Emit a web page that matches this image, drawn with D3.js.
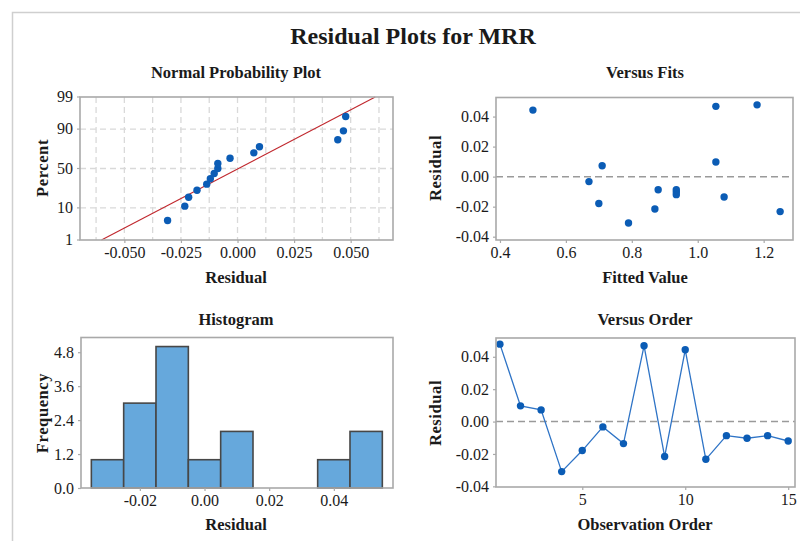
<!DOCTYPE html>
<html>
<head>
<meta charset="utf-8">
<script src="https://cdn.jsdelivr.net/npm/d3@7"></script>
<style>
  html, body { margin: 0; padding: 0; background: #fff; }
  svg { display: block; }
  text { font-family: "Liberation Serif", "Times New Roman", serif; fill: #1a1a1a; }
</style>
</head>
<body>
<svg id="chart" width="800" height="541"></svg>
<script>
// Residuals of the MRR model, listed in observation order
const observation = [1, 2, 3, 4, 5, 6, 7, 8, 9, 10, 11, 12, 13, 14, 15];
const residuals = [0.0478, 0.0097, 0.0072, -0.0309, -0.0179, -0.0033, -0.0136, 0.0468,
                   -0.0216, 0.0443, -0.0233, -0.0087, -0.0103, -0.0087, -0.0120];
const fittedValues = [1.18, 1.055, 0.71, 0.79, 0.70, 0.67, 1.08, 1.055,
                      0.87, 0.50, 1.25, 0.88, 0.935, 0.935, 0.935];

// Histogram bin edges
const binEdges = [-0.035, -0.025, -0.015, -0.005, 0.005, 0.015, 0.025, 0.035, 0.045, 0.055];

// Tick values
const nppPercentTicks = [1, 10, 50, 90, 99];
const nppResidualTicks = [-0.05, -0.025, 0, 0.025, 0.05];
const nppGridTicks = [-0.0625, -0.05, -0.0375, -0.025, -0.0125, 0, 0.0125, 0.025, 0.0375, 0.05, 0.0625];
const fitsXTicks = [0.4, 0.6, 0.8, 1.0, 1.2];
const residualYTicks = [-0.04, -0.02, 0, 0.02, 0.04];
const histXTicks = [-0.02, 0, 0.02, 0.04];
const histYTicks = [0, 1.2, 2.4, 3.6, 4.8];
const orderXTicks = [5, 10, 15];

const svg = d3.select("#chart");
const FRAME = "#a9a9a9";
const DOT = "#0b5cb5";
const TICK_FONT = "16px";
const fmt = f => v => d3.format(f)(v).replace("\u2212", "-");

// Inverse standard normal CDF (Acklam's rational approximation)
function probit(p) {
  const a = [-3.969683028665376e+01, 2.209460984245205e+02, -2.759285104469687e+02,
             1.383577518672690e+02, -3.066479806614716e+01, 2.506628277459239e+00];
  const b = [-5.447609879822406e+01, 1.615858368580409e+02, -1.556989798598866e+02,
             6.680131188771972e+01, -1.328068155288572e+01];
  const c = [-7.784894002430293e-03, -3.223964580411365e-01, -2.400758277161838e+00,
             -2.549671010241093e+00, 4.374664141464968e+00, 2.938163982698783e+00];
  const d = [7.784695709041462e-03, 3.224671290700398e-01, 2.445134137142996e+00,
             3.754408661907416e+00];
  const pl = 0.02425, ph = 1 - pl;
  let q, r;
  if (p < pl) {
    q = Math.sqrt(-2 * Math.log(p));
    return (((((c[0]*q+c[1])*q+c[2])*q+c[3])*q+c[4])*q+c[5]) / ((((d[0]*q+d[1])*q+d[2])*q+d[3])*q+1);
  }
  if (p <= ph) {
    q = p - 0.5; r = q * q;
    return (((((a[0]*r+a[1])*r+a[2])*r+a[3])*r+a[4])*r+a[5])*q / (((((b[0]*r+b[1])*r+b[2])*r+b[3])*r+b[4])*r+1);
  }
  q = Math.sqrt(-2 * Math.log(1 - p));
  return -(((((c[0]*q+c[1])*q+c[2])*q+c[3])*q+c[4])*q+c[5]) / ((((d[0]*q+d[1])*q+d[2])*q+d[3])*q+1);
}

// Outer border of the figure
svg.append("path")
  .attr("d", "M12.5,541 V12.5 H800")
  .attr("fill", "none").attr("stroke", "#cfcfcf").attr("stroke-width", 1.5);

svg.append("text")
  .attr("x", 413).attr("y", 44)
  .attr("text-anchor", "middle")
  .style("font-size", "24px").style("font-weight", "bold")
  .text("Residual Plots for MRR");

function panelTitle(x, y, t) {
  svg.append("text").attr("x", x).attr("y", y).attr("text-anchor", "middle")
    .style("font-size", "16.5px").style("font-weight", "bold").text(t);
}
function axisTitle(x, y, t, rotate) {
  const el = svg.append("text").attr("text-anchor", "middle")
    .style("font-size", "16.5px").style("font-weight", "bold").text(t);
  if (rotate) el.attr("transform", `translate(${x},${y}) rotate(-90)`).style("letter-spacing", "0.6px");
  else el.attr("x", x).attr("y", y);
}
function styleAxis(a) {
  a.select(".domain").remove();
  a.selectAll(".tick line").attr("stroke", FRAME).attr("stroke-width", 1.2);
  a.selectAll(".tick text").style("font-family", "'Liberation Serif', serif")
    .style("font-size", TICK_FONT).attr("fill", "#1a1a1a");
}
function drawAxes(g, xs, ys, box, xTicks, yTicks, xFmt, yFmt) {
  const ax = g.append("g").attr("transform", `translate(0,${box.b})`)
    .call(d3.axisBottom(xs).tickValues(xTicks).tickFormat(xFmt).tickSize(3).tickSizeOuter(0).tickPadding(4));
  styleAxis(ax);
  if (ys) {
    const ay = g.append("g").attr("transform", `translate(${box.l},0)`)
      .call(d3.axisLeft(ys).tickValues(yTicks).tickFormat(yFmt).tickSize(3).tickSizeOuter(0).tickPadding(4));
    styleAxis(ay);
  }
}
function frame(g, box) {
  g.append("rect").attr("x", box.l).attr("y", box.t)
    .attr("width", box.r - box.l).attr("height", box.b - box.t)
    .attr("fill", "none").attr("stroke", FRAME).attr("stroke-width", 1.6);
}

// ---------- Normal Probability Plot ----------
{
  const box = { l: 80, r: 393, t: 97, b: 240 };
  const g = svg.append("g");
  const x = d3.scaleLinear().domain([-0.0696, 0.0687]).range([box.l, box.r]);
  const y = d3.scaleLinear().domain([probit(0.01), probit(0.99)]).range([box.b, box.t]);
  const yp = p => y(probit(p / 100));

  g.selectAll("line.vgrid").data(nppGridTicks).join("line")
    .attr("class", "vgrid")
    .attr("x1", d => x(d)).attr("x2", d => x(d)).attr("y1", box.t).attr("y2", box.b)
    .attr("stroke", "#d9d9d9").attr("stroke-width", 1.3).attr("stroke-dasharray", "6,4");
  g.selectAll("line.hgrid").data([10, 50, 90]).join("line")
    .attr("class", "hgrid")
    .attr("x1", box.l).attr("x2", box.r).attr("y1", d => yp(d)).attr("y2", d => yp(d))
    .attr("stroke", "#d9d9d9").attr("stroke-width", 1.3).attr("stroke-dasharray", "6,4");

  // Fitted normal line from the residuals' mean and standard deviation
  const mu = d3.mean(residuals), sd = d3.deviation(residuals);
  const zLo = probit(0.01), zHi = probit(0.99);
  g.append("line")
    .attr("x1", x(mu + sd * zLo)).attr("y1", y(zLo))
    .attr("x2", x(mu + sd * zHi)).attr("y2", y(zHi))
    .attr("stroke", "#c0272d").attr("stroke-width", 1.1);

  const n = residuals.length;
  const sorted = residuals.slice().sort(d3.ascending);
  g.selectAll("circle").data(sorted).join("circle")
    .attr("cx", d => x(d)).attr("cy", (d, i) => y(probit((i + 1 - 0.3) / (n + 0.4))))
    .attr("r", 3.7).attr("fill", DOT);

  frame(g, box);
  drawAxes(g, x, null, box, nppResidualTicks, null, fmt(".3f"), null);
  // percent ticks on the probability axis
  const py = g.append("g");
  nppPercentTicks.forEach(p => {
    const yy = yp(p);
    py.append("line").attr("x1", box.l - 3).attr("x2", box.l).attr("y1", yy).attr("y2", yy)
      .attr("stroke", FRAME).attr("stroke-width", 1.2);
    py.append("text").attr("x", box.l - 7).attr("y", yy).attr("dy", "0.32em")
      .attr("text-anchor", "end").style("font-size", TICK_FONT).text(p);
  });

  panelTitle(236, 78, "Normal Probability Plot");
  axisTitle(236, 283, "Residual");
  axisTitle(48, 168, "Percent", true);
}

// ---------- Versus Fits ----------
{
  const box = { l: 496, r: 793, t: 97.5, b: 240 };
  const g = svg.append("g");
  const x = d3.scaleLinear().domain([0.388, 1.289]).range([box.l, box.r]);
  const y = d3.scaleLinear().domain([-0.0422, 0.0527]).range([box.b, box.t]);

  g.append("line").attr("x1", box.l).attr("x2", box.r).attr("y1", y(0)).attr("y2", y(0))
    .attr("stroke", "#9a9a9a").attr("stroke-width", 1.5).attr("stroke-dasharray", "7,4");
  g.selectAll("circle").data(residuals).join("circle")
    .attr("cx", (d, i) => x(fittedValues[i])).attr("cy", d => y(d))
    .attr("r", 3.7).attr("fill", DOT);

  frame(g, box);
  drawAxes(g, x, y, box, fitsXTicks, residualYTicks, fmt(".1f"), fmt(".2f"));
  panelTitle(645, 78, "Versus Fits");
  axisTitle(645, 283, "Fitted Value");
  axisTitle(441, 168, "Residual", true);
}

// ---------- Histogram ----------
{
  const box = { l: 81, r: 393, t: 337.5, b: 488 };
  const g = svg.append("g");
  const x = d3.scaleLinear().domain([-0.0382, 0.0583]).range([box.l, box.r]);
  const y = d3.scaleLinear().domain([0, 5.32]).range([box.b, box.t]);

  const bins = d3.bin()
    .domain([binEdges[0], binEdges[binEdges.length - 1]])
    .thresholds(binEdges.slice(1, -1))(residuals);

  g.selectAll("rect.bar").data(bins).join("rect")
    .attr("class", "bar")
    .attr("x", d => x(d.x0)).attr("width", d => x(d.x1) - x(d.x0))
    .attr("y", d => y(d.length)).attr("height", d => y(0) - y(d.length))
    .attr("fill", "#66a8dc").attr("stroke", "#474747").attr("stroke-width", 1.6);

  frame(g, box);
  drawAxes(g, x, y, box, histXTicks, histYTicks, fmt(".2f"), fmt(".1f"));
  panelTitle(236, 325, "Histogram");
  axisTitle(236, 530, "Residual");
  axisTitle(48, 413, "Frequency", true);
}

// ---------- Versus Order ----------
{
  const box = { l: 496, r: 795, t: 338, b: 487 };
  const g = svg.append("g");
  const x = d3.scaleLinear().domain([0.81, 15.33]).range([box.l, box.r]);
  const y = d3.scaleLinear().domain([-0.0404, 0.0516]).range([box.b, box.t]);

  g.append("line").attr("x1", box.l).attr("x2", box.r).attr("y1", y(0)).attr("y2", y(0))
    .attr("stroke", "#9a9a9a").attr("stroke-width", 1.5).attr("stroke-dasharray", "7,4");
  g.append("path").datum(residuals)
    .attr("d", d3.line().x((d, i) => x(observation[i])).y(d => y(d)))
    .attr("fill", "none").attr("stroke", "#2f74c6").attr("stroke-width", 1.3);
  g.selectAll("circle").data(residuals).join("circle")
    .attr("cx", (d, i) => x(observation[i])).attr("cy", d => y(d))
    .attr("r", 3.7).attr("fill", DOT);

  frame(g, box);
  drawAxes(g, x, y, box, orderXTicks, residualYTicks, d3.format("d"), fmt(".2f"));
  panelTitle(645, 325, "Versus Order");
  axisTitle(645, 530, "Observation Order");
  axisTitle(441, 413, "Residual", true);
}
</script>
</body>
</html>
